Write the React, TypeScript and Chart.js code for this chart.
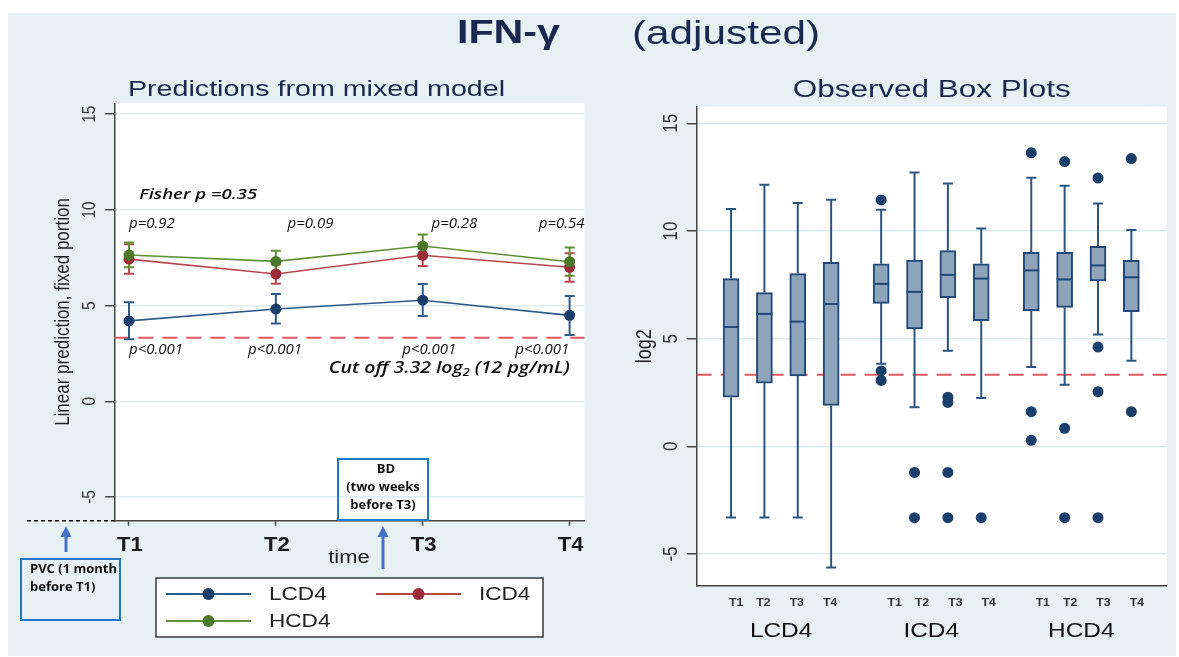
import React, { useEffect, useRef } from "react";
import { Chart, registerables } from "chart.js";
Chart.register(...registerables);

// ---------------- data ----------------
const TIMES = ["T1", "T2", "T3", "T4"];
const TIME_X = [1, 2, 3, 4];
const GROUPS = ["LCD4", "ICD4", "HCD4"];
const Y_TICKS = [-5, 0, 5, 10, 15];
const CUTOFF = 3.32;

// left panel: predictions (mixed model) with 95% CI
const LCD4_PRED = [4.2, 4.82, 5.28, 4.49];
const LCD4_LO = [3.24, 4.07, 4.46, 3.46];
const LCD4_HI = [5.17, 5.61, 6.13, 5.5];
const ICD4_PRED = [7.43, 6.65, 7.63, 7.0];
const ICD4_LO = [6.67, 6.14, 7.07, 6.25];
const ICD4_HI = [8.2, 7.16, 8.22, 7.73];
const HCD4_PRED = [7.64, 7.31, 8.11, 7.29];
const HCD4_LO = [7.0, 6.76, 7.5, 6.56];
const HCD4_HI = [8.29, 7.87, 8.72, 8.04];

const GROUP_P = ["p=0.92", "p=0.09", "p=0.28", "p=0.54"];
const CUT_P = ["p<0.001", "p<0.001", "p<0.001", "p<0.001"];
const FISHER = "Fisher p =0.35";

// right panel: observed box plots (LCD4 T1..T4, ICD4 T1..T4, HCD4 T1..T4)
const BOX_POS = [1, 2, 3, 4, 5.5, 6.5, 7.5, 8.5, 10, 11, 12, 13];
const WHISK_LO = [-3.3, -3.3, -3.3, -5.63, 3.84, 1.81, 4.44, 2.25, 3.69, 2.86, 5.19, 3.98];
const Q1 = [2.28, 2.93, 3.27, 1.9, 6.64, 5.45, 6.9, 5.84, 6.3, 6.45, 7.68, 6.25];
const MEDIAN = [5.54, 6.15, 5.79, 6.61, 7.54, 7.17, 7.96, 7.79, 8.17, 7.75, 8.4, 7.85];
const Q3 = [7.79, 7.14, 8.02, 8.54, 8.48, 8.65, 9.09, 8.48, 9.01, 9.01, 9.29, 8.64];
const WHISK_HI = [11.02, 12.15, 11.3, 11.45, 10.99, 12.72, 12.2, 10.11, 12.47, 12.1, 11.27, 10.05];
const OUT_BOX = [4, 4, 4, 5, 5, 6, 6, 6, 6, 7, 8, 8, 8, 9, 9, 9, 10, 10, 10, 10, 11, 11];
const OUT_VAL = [11.44, 3.5, 3.06, -1.21, -3.31, 2.28, 2.04, -1.21, -3.31, -3.31, 13.63, 1.61, 0.28, 13.22, 0.84, -3.31, 12.46, 4.61, 2.54, -3.31, 13.36, 1.61];

// ---------------- style / layout ----------------
const BG = "#e7f0f2";
const NAVY = "#1a2850";
const SX = 1.22;
const SANS = '"Liberation Sans", Arial, sans-serif';
const OPEN = '"Open Sans", "DejaVu Sans", sans-serif';
const GRID = "#e1ebee";
const AXIS = "#444";
const RED_DASH = "#e0575f";

const SERIES = [
  { label: "LCD4", pred: LCD4_PRED, lo: LCD4_LO, hi: LCD4_HI, line: "#2d5b8b", marker: "#1b3d6a" },
  { label: "ICD4", pred: ICD4_PRED, lo: ICD4_LO, hi: ICD4_HI, line: "#b8474d", marker: "#9b2c38" },
  { label: "HCD4", pred: HCD4_PRED, lo: HCD4_LO, hi: HCD4_HI, line: "#5f8f36", marker: "#4c7829" },
];

// annotation positions (data coordinates of left panel)
const GROUP_P_X = [1.0, 2.08, 3.06, 3.79];
const GROUP_P_Y = 9.3;
const CUT_P_X = [1.0, 1.81, 2.86, 3.63];
const CUT_P_Y = 2.69;

type TO = {
  font: string;
  color?: string;
  align?: CanvasTextAlign;
  base?: CanvasTextBaseline;
  w?: number;
  sx?: number;
  rot?: boolean;
};

function txt(ctx: CanvasRenderingContext2D, s: string, x: number, y: number, o: TO) {
  ctx.save();
  ctx.font = o.font;
  ctx.fillStyle = o.color || "#222";
  ctx.textAlign = o.align || "left";
  ctx.textBaseline = o.base || "alphabetic";
  let sx = o.sx ?? SX;
  if (o.w) sx = o.w / ctx.measureText(s).width;
  ctx.translate(x, y);
  if (o.rot) {
    ctx.scale(SX, 1);
    ctx.rotate(-Math.PI / 2);
  } else {
    ctx.scale(sx, 1);
  }
  ctx.fillText(s, 0, 0);
  ctx.restore();
}

function runs(
  ctx: CanvasRenderingContext2D,
  parts: { s: string; font: string; dy?: number }[],
  x: number,
  y: number,
  w: number,
  color: string
) {
  ctx.save();
  ctx.textBaseline = "middle";
  ctx.fillStyle = color;
  const widths = parts.map((p) => {
    ctx.font = p.font;
    return ctx.measureText(p.s).width;
  });
  const total = widths.reduce((a, b) => a + b, 0);
  const sx = w / total;
  ctx.translate(x, y);
  ctx.scale(sx, 1);
  let cx = 0;
  parts.forEach((p, i) => {
    ctx.font = p.font;
    ctx.fillText(p.s, cx, p.dy || 0);
    cx += widths[i];
  });
  ctx.restore();
}

function arrowUp(ctx: CanvasRenderingContext2D, x: number, yTail: number, yTip: number) {
  ctx.save();
  ctx.strokeStyle = "#4472c4";
  ctx.fillStyle = "#4472c4";
  ctx.lineWidth = 3;
  ctx.beginPath();
  ctx.moveTo(x, yTail);
  ctx.lineTo(x, yTip + 8);
  ctx.stroke();
  ctx.beginPath();
  ctx.moveTo(x, yTip);
  ctx.lineTo(x - 5.5, yTip + 11);
  ctx.lineTo(x + 5.5, yTip + 11);
  ctx.closePath();
  ctx.fill();
  ctx.restore();
}

function hDash(ctx: CanvasRenderingContext2D, x0: number, x1: number, y: number) {
  ctx.save();
  ctx.strokeStyle = RED_DASH;
  ctx.lineWidth = 2;
  ctx.setLineDash([15, 9]);
  ctx.beginPath();
  ctx.moveTo(x0, y);
  ctx.lineTo(x1, y);
  ctx.stroke();
  ctx.restore();
}

// ---------------- left panel plugin ----------------
const leftDecor = {
  id: "leftDecor",
  beforeDraw(chart: any) {
    const { ctx, chartArea: a } = chart;
    ctx.save();
    ctx.fillStyle = "#fff";
    ctx.fillRect(0, 0, chart.width, chart.height);
    ctx.fillStyle = BG;
    ctx.fillRect(8, 13, 1168, 643);
    ctx.fillStyle = "#fff";
    ctx.fillRect(a.left, a.top, a.right - a.left, a.bottom - a.top);
    ctx.restore();
  },
  beforeDatasetsDraw(chart: any) {
    const { ctx, chartArea: a, scales } = chart;
    const x = scales.x, y = scales.y;
    hDash(ctx, a.left, a.right, y.getPixelForValue(CUTOFF));
    SERIES.forEach((s) => {
      ctx.save();
      ctx.strokeStyle = s.line;
      ctx.lineWidth = 2;
      TIME_X.forEach((tv, i) => {
        const px = x.getPixelForValue(tv);
        const yl = y.getPixelForValue(s.lo[i]);
        const yh = y.getPixelForValue(s.hi[i]);
        ctx.beginPath();
        ctx.moveTo(px, yl);
        ctx.lineTo(px, yh);
        ctx.moveTo(px - 5, yl);
        ctx.lineTo(px + 5, yl);
        ctx.moveTo(px - 5, yh);
        ctx.lineTo(px + 5, yh);
        ctx.stroke();
      });
      ctx.restore();
    });
  },
  afterDraw(chart: any) {
    const { ctx, chartArea: a, scales } = chart;
    const x = scales.x, y = scales.y;
    // main title
    txt(ctx, "IFN-γ", 457, 43, { font: `bold 34px ${SANS}`, color: NAVY, w: 103 });
    txt(ctx, "(adjusted)", 632, 44, { font: `34px ${SANS}`, color: NAVY, w: 188 });
    // panel title
    txt(ctx, "Predictions from mixed model", 128, 96, { font: `22.5px ${SANS}`, color: NAVY, w: 377 });
    // y ticks & title
    Y_TICKS.forEach((v) =>
      txt(ctx, String(v), 90, y.getPixelForValue(v), { font: `15.5px ${SANS}`, color: "#333", align: "center", base: "middle", rot: true })
    );
    txt(ctx, "Linear prediction, fixed portion", 63, (a.top + a.bottom) / 2, {
      font: `17px ${SANS}`, color: "#222", align: "center", base: "middle", rot: true,
    });
    // x ticks & title
    TIMES.forEach((t, i) =>
      txt(ctx, t, x.getPixelForValue(TIME_X[i]) + 1, 545, { font: `bold 21px ${SANS}`, color: "#1a1a1a", align: "center", base: "middle", sx: 1.05 })
    );
    txt(ctx, "time", 349, 558, { font: `18px ${SANS}`, color: "#222", align: "center", base: "middle" });
    // annotations
    txt(ctx, FISHER, x.getPixelForValue(1.07), y.getPixelForValue(10.78), {
      font: `italic 600 15px ${OPEN}`, color: "#111", base: "middle", w: 118,
    });
    GROUP_P.forEach((p, i) =>
      txt(ctx, p, x.getPixelForValue(GROUP_P_X[i]), y.getPixelForValue(GROUP_P_Y), {
        font: `italic 15px ${OPEN}`, color: "#111", base: "middle", sx: 1,
      })
    );
    CUT_P.forEach((p, i) =>
      txt(ctx, p, x.getPixelForValue(CUT_P_X[i]), y.getPixelForValue(CUT_P_Y), {
        font: `italic 15px ${OPEN}`, color: "#111", base: "middle", sx: 1,
      })
    );
    const cf = `italic 600 15.5px ${OPEN}`;
    runs(
      ctx,
      [
        { s: "Cut off 3.32 log", font: cf },
        { s: "2", font: `italic 600 10px ${OPEN}`, dy: 4 },
        { s: " (12 pg/mL)", font: cf },
      ],
      x.getPixelForValue(2.36),
      y.getPixelForValue(1.69),
      241,
      "#111"
    );
    // BD / PVC boxes
    ctx.save();
    ctx.strokeStyle = "#2178c9";
    ctx.lineWidth = 2;
    ctx.strokeRect(338, 459, 90, 61);
    ctx.strokeRect(21, 559, 99, 61);
    ctx.restore();
    const bf = `bold 13px ${OPEN}`;
    txt(ctx, "BD", 386, 469, { font: bf, color: "#111", align: "center", base: "middle", sx: 1 });
    txt(ctx, "(two weeks", 383, 487, { font: bf, color: "#111", align: "center", base: "middle", sx: 1 });
    txt(ctx, "before T3)", 383, 505, { font: bf, color: "#111", align: "center", base: "middle", sx: 1 });
    txt(ctx, "PVC (1 month", 30, 569, { font: bf, color: "#111", base: "middle", sx: 1 });
    txt(ctx, "before T1)", 30, 587, { font: bf, color: "#111", base: "middle", sx: 1 });
    arrowUp(ctx, 383, 569, 526);
    arrowUp(ctx, 66, 552, 526);
    // black dashed baseline to the left of the axis
    ctx.save();
    ctx.strokeStyle = "#111";
    ctx.lineWidth = 1.5;
    ctx.setLineDash([4, 3]);
    ctx.beginPath();
    ctx.moveTo(27, a.bottom);
    ctx.lineTo(a.left, a.bottom);
    ctx.stroke();
    ctx.restore();
    // legend
    ctx.save();
    ctx.fillStyle = "#fff";
    ctx.fillRect(156, 578, 387, 59);
    ctx.strokeStyle = "#3a3a3a";
    ctx.lineWidth = 1.5;
    ctx.strokeRect(156, 578, 387, 59);
    ctx.restore();
    const LEG = [
      { x0: 166, y: 594 },
      { x0: 376, y: 594 },
      { x0: 166, y: 621 },
    ];
    SERIES.forEach((s, i) => {
      const L = LEG[i];
      ctx.save();
      ctx.strokeStyle = s.line;
      ctx.lineWidth = 1.8;
      ctx.beginPath();
      ctx.moveTo(L.x0, L.y);
      ctx.lineTo(L.x0 + 85, L.y);
      ctx.stroke();
      ctx.fillStyle = s.marker;
      ctx.beginPath();
      ctx.arc(L.x0 + 42.5, L.y, 6, 0, Math.PI * 2);
      ctx.fill();
      ctx.restore();
      txt(ctx, s.label, L.x0 + 103, L.y + 1, { font: `18.5px ${SANS}`, color: "#222", base: "middle" });
    });
  },
};

// ---------------- right panel plugin ----------------
const rightDecor = {
  id: "rightDecor",
  beforeDraw(chart: any) {
    const { ctx, chartArea: a } = chart;
    ctx.save();
    ctx.fillStyle = "#fff";
    ctx.fillRect(a.left, a.top, a.right - a.left, a.bottom - a.top);
    ctx.restore();
  },
  beforeDatasetsDraw(chart: any) {
    const { ctx, chartArea: a, scales } = chart;
    const x = scales.x, y = scales.y;
    hDash(ctx, a.left, a.right, y.getPixelForValue(CUTOFF));
    ctx.save();
    ctx.strokeStyle = "#2a5482";
    ctx.lineWidth = 2;
    BOX_POS.forEach((p, i) => {
      const px = x.getPixelForValue(p);
      const segs = [
        [Q3[i], WHISK_HI[i]],
        [Q1[i], WHISK_LO[i]],
      ];
      segs.forEach(([from, to]) => {
        const y0 = y.getPixelForValue(from);
        const y1 = y.getPixelForValue(to);
        ctx.beginPath();
        ctx.moveTo(px, y0);
        ctx.lineTo(px, y1);
        ctx.moveTo(px - 5, y1);
        ctx.lineTo(px + 5, y1);
        ctx.stroke();
      });
    });
    ctx.restore();
  },
  afterDatasetsDraw(chart: any) {
    const { ctx, scales } = chart;
    const x = scales.x, y = scales.y;
    ctx.save();
    ctx.strokeStyle = "#20497a";
    ctx.lineWidth = 2;
    BOX_POS.forEach((p, i) => {
      const px = x.getPixelForValue(p);
      const py = y.getPixelForValue(MEDIAN[i]);
      ctx.beginPath();
      ctx.moveTo(px - 8, py);
      ctx.lineTo(px + 8, py);
      ctx.stroke();
    });
    ctx.restore();
  },
  afterDraw(chart: any) {
    const { ctx, chartArea: a, scales } = chart;
    const x = scales.x, y = scales.y;
    txt(ctx, "Observed Box Plots", (a.left + a.right) / 2, 97, { font: `23px ${SANS}`, color: NAVY, align: "center", w: 278 });
    Y_TICKS.forEach((v) =>
      txt(ctx, String(v), 71, y.getPixelForValue(v), { font: `17px ${SANS}`, color: "#333", align: "center", base: "middle", rot: true })
    );
    txt(ctx, "log2", 44.5, (a.top + a.bottom) / 2, { font: `18px ${SANS}`, color: "#222", align: "center", base: "middle", rot: true });
    const GROUP_SHIFT = [-1, 7.5, 5.5];
    BOX_POS.forEach((p, i) => {
      const g = Math.floor(i / 4);
      const t = i % 4;
      const px = x.getPixelForValue(p) + GROUP_SHIFT[g] + (t === 0 ? 6 : 0);
      txt(ctx, TIMES[t], px, 603, { font: `bold 10px ${SANS}`, color: "#333", align: "center", base: "middle" });
    });
    GROUPS.forEach((g, gi) => {
      const c = (BOX_POS[gi * 4] + BOX_POS[gi * 4 + 3]) / 2;
      txt(ctx, g, x.getPixelForValue(c), 631, { font: `20px ${SANS}`, color: "#111", align: "center", base: "middle" });
    });
  },
};

function yScale(min: number, max: number, width: number, tickLen: number) {
  return {
    type: "linear" as const,
    min,
    max,
    afterBuildTicks: (s: any) => {
      s.ticks = Y_TICKS.map((v) => ({ value: v }));
    },
    afterFit: (s: any) => {
      s.width = width;
    },
    ticks: { display: false },
    grid: { color: GRID, lineWidth: 1.5, tickLength: tickLen, tickColor: AXIS, tickWidth: 1.5 },
    border: { color: AXIS, width: 1.5 },
  };
}

export default function App() {
  const lRef = useRef<HTMLCanvasElement>(null);
  const rRef = useRef<HTMLCanvasElement>(null);

  useEffect(() => {
    const left = new Chart(lRef.current as HTMLCanvasElement, {
      type: "line",
      data: {
        datasets: SERIES.map((s, k) => ({
          label: s.label,
          data: TIME_X.map((tv, i) => ({ x: tv, y: s.pred[i] })),
          borderColor: s.line,
          backgroundColor: s.marker,
          pointBackgroundColor: s.marker,
          pointBorderWidth: 0,
          pointRadius: 5.5,
          borderWidth: 1.6,
          order: 2 - k,
        })),
      },
      options: {
        responsive: false,
        animation: false,
        devicePixelRatio: 1,
        events: [],
        layout: { padding: { left: 0, top: 103.3, right: 1179 - 584.3, bottom: 0 } },
        plugins: { legend: { display: false }, title: { display: false }, tooltip: { enabled: false } },
        scales: {
          x: {
            type: "linear",
            min: 0.9,
            max: 4.1,
            afterBuildTicks: (s: any) => {
              s.ticks = TIME_X.map((v) => ({ value: v }));
            },
            afterFit: (s: any) => {
              s.height = 657 - 520.7;
            },
            ticks: { display: false },
            grid: { drawOnChartArea: false, tickLength: 5, tickColor: AXIS, tickWidth: 1.5 },
            border: { color: AXIS, width: 1.5 },
          },
          y: yScale(-6.24, 15.57, 114.3, 9),
        },
      } as any,
      plugins: [leftDecor],
    });

    const right = new Chart(rRef.current as HTMLCanvasElement, {
      type: "bar",
      data: {
        datasets: [
          {
            type: "bar",
            label: "IQR",
            data: BOX_POS.map((p, i) => ({ x: p, y: [Q1[i], Q3[i]] })),
            backgroundColor: "#8ea4bb",
            borderColor: "#20497a",
            borderWidth: 2,
            borderSkipped: false,
            barThickness: 16,
            order: 1,
          } as any,
          {
            type: "scatter",
            label: "outliers",
            data: OUT_BOX.map((b, i) => ({ x: BOX_POS[b], y: OUT_VAL[i] })),
            pointRadius: 5.5,
            pointBackgroundColor: "#1b3f6a",
            pointBorderWidth: 0,
            order: 0,
          } as any,
        ],
      },
      options: {
        responsive: false,
        animation: false,
        devicePixelRatio: 1,
        events: [],
        layout: { padding: { left: 0, top: 106.7, right: 579 - 566.7, bottom: 0 } },
        plugins: { legend: { display: false }, title: { display: false }, tooltip: { enabled: false } },
        scales: {
          x: {
            type: "linear",
            min: -0.03,
            max: 14.06,
            offset: false,
            afterFit: (s: any) => {
              s.height = 657 - 585.7;
            },
            ticks: { display: false },
            grid: { display: false, offset: false },
            border: { display: true, color: AXIS, width: 1.5 },
          },
          y: yScale(-6.47, 15.77, 96.7, 10),
        },
      } as any,
      plugins: [rightDecor],
    });

    return () => {
      left.destroy();
      right.destroy();
    };
  }, []);

  return (
    <div style={{ position: "absolute", left: 0, top: 0, width: 1179, height: 657, overflow: "hidden" }}>
      <canvas ref={lRef} width={1179} height={657} style={{ position: "absolute", left: 0, top: 0, width: 1179, height: 657 }} />
      <canvas ref={rRef} width={579} height={657} style={{ position: "absolute", left: 600, top: 0, width: 579, height: 657 }} />
    </div>
  );
}
